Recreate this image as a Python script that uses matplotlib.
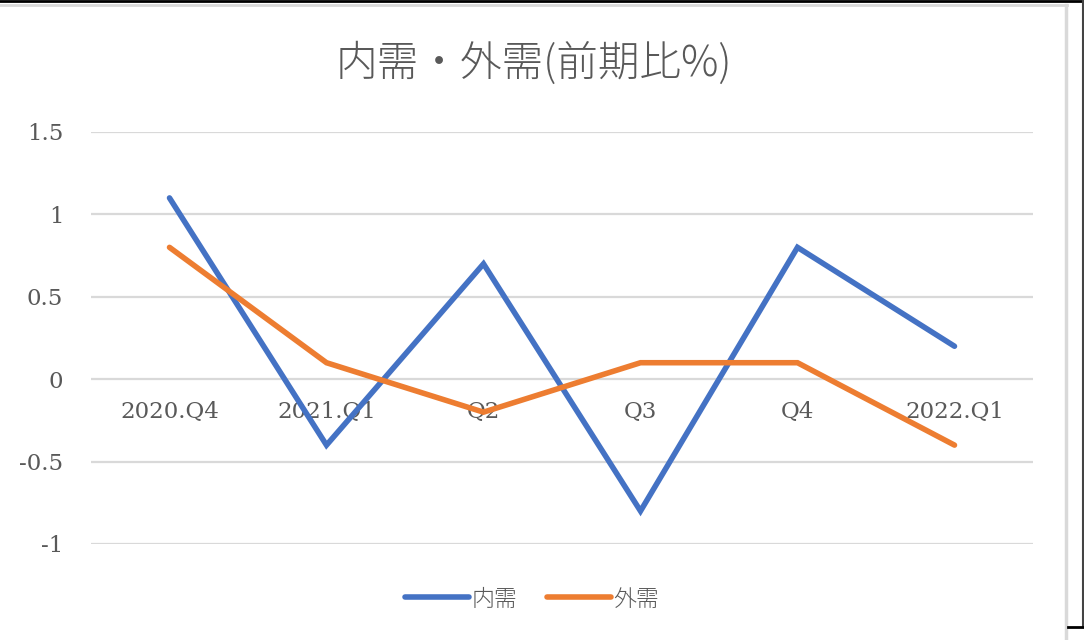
import matplotlib
matplotlib.use("Agg")
import matplotlib.pyplot as plt
from matplotlib.lines import Line2D

plt.rcParams['font.family'] = ['DejaVu Serif', 'Noto Sans CJK JP', 'DejaVu Sans']

# data
quarters = ['2020.Q4', '2021.Q1', 'Q2', 'Q3', 'Q4', '2022.Q1']
domestic = [1.1, -0.4, 0.7, -0.8, 0.8, 0.2]   # 内需
external = [0.8, 0.1, -0.2, 0.1, 0.1, -0.4]   # 外需
yticks = [-1, -0.5, 0, 0.5, 1, 1.5]
ytick_labels = ['-1', '-0.5', '0', '0.5', '1', '1.5']

W, H = 1084, 640
fig = plt.figure(figsize=(W / 100, H / 100), dpi=100)
ax = fig.add_axes([91 / W, 1 - 544 / H, (1033 - 91) / W, (544 - 132) / H])

text_col = '#595959'
for s in ax.spines.values():
    s.set_visible(False)
ax.spines['bottom'].set_position(('data', 0))

x = range(len(quarters))
ax.plot(x, domestic, color='#4472C4', lw=4, solid_capstyle='round',
        solid_joinstyle='miter', label='内需', zorder=3)
ax.plot(x, external, color='#ED7D31', lw=4, solid_capstyle='round',
        solid_joinstyle='miter', label='外需', zorder=3)

ax.set_xlim(-0.5, len(quarters) - 0.5)
ax.set_ylim(-1, 1.5)
ax.set_yticks(yticks)
ax.set_yticklabels(ytick_labels, fontsize=16.5, color=text_col)
ax.set_xticks(list(x))
ax.set_xticklabels(quarters, fontsize=16.5, color=text_col)
ax.grid(axis='y', color='#D9D9D9', lw=1.6)
ax.set_axisbelow(True)
ax.tick_params(axis='both', length=0)
ax.tick_params(axis='x', pad=16)
ax.tick_params(axis='y', pad=20)

fig.text(534 / W, 1 - 64 / H, '内需・外需(前期比%)', ha='center', va='center',
         fontsize=30, color=text_col, family=['Noto Sans CJK JP'],
         fontweight='light')

leg = fig.legend(loc='center', bbox_to_anchor=(532 / W, 1 - 599 / H), ncol=2,
                 frameon=False, handlelength=2.8, columnspacing=1.3,
                 handletextpad=0.1,
                 prop={'family': 'Noto Sans CJK JP', 'size': 16.5, 'weight': 'light'})
for t in leg.get_texts():
    t.set_color(text_col)

# frame of the chart area and screenshot edges
fig.add_artist(Line2D([0, 1067 / W], [1 - 4.5 / H] * 2, color='#D9D9D9', lw=2))
fig.add_artist(Line2D([1066 / W] * 2, [0, 1 - 4.5 / H], color='#D9D9D9', lw=2.5))
fig.add_artist(Line2D([0, 1], [1 - 1 / H] * 2, color='black', lw=2))
fig.add_artist(Line2D([1083 / W] * 2, [1 - 627 / H, 1], color='#444444', lw=1.5))
fig.add_artist(Line2D([1068 / W, 1], [1 - 627 / H] * 2, color='black', lw=2))

fig.savefig('out.png', dpi=100)
